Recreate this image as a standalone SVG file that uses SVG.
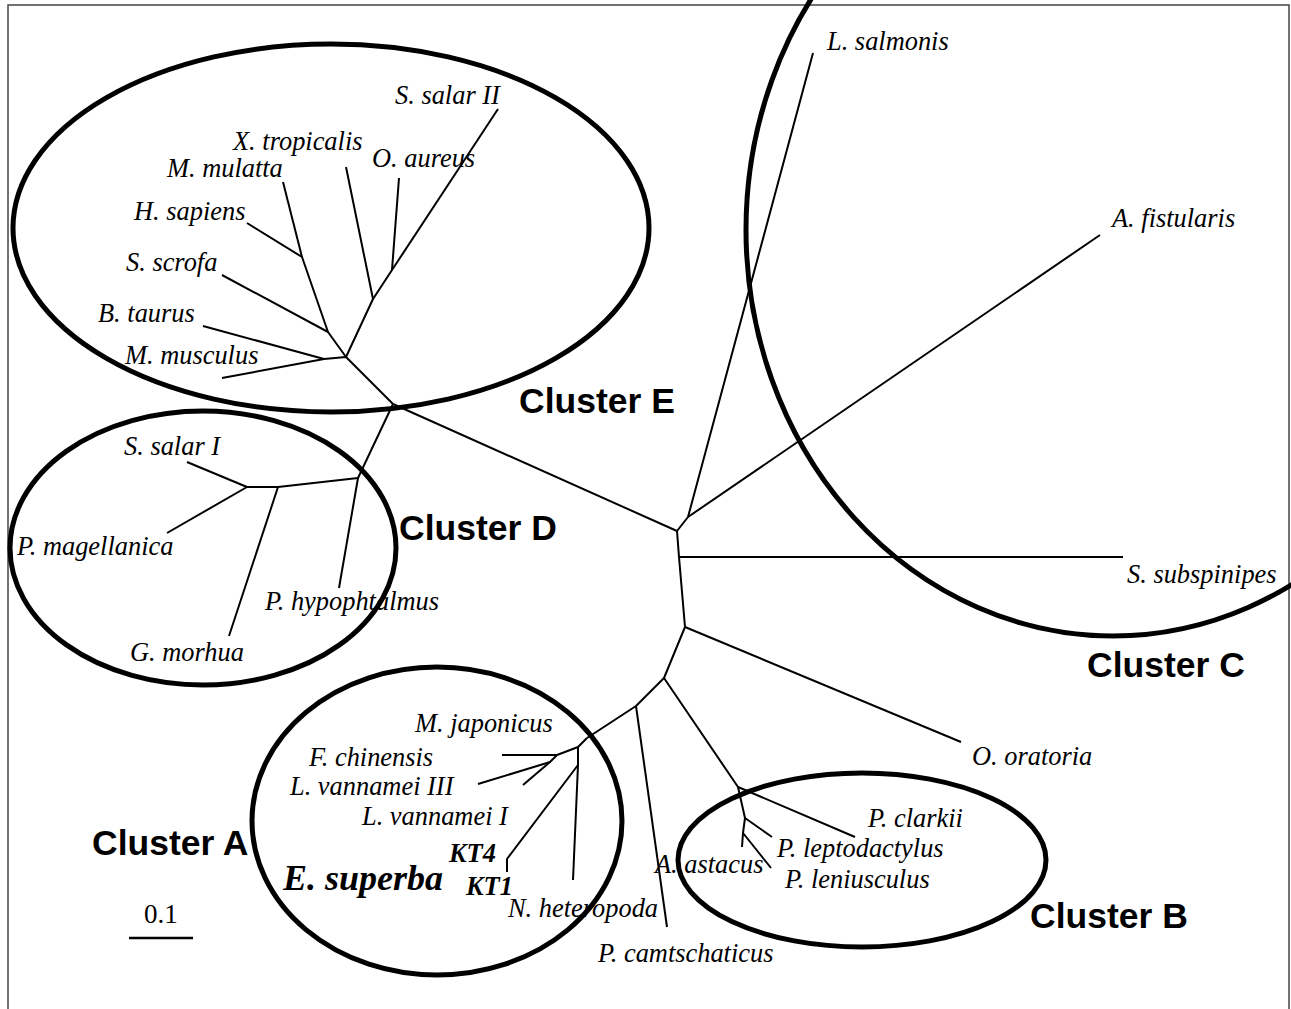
<svg xmlns="http://www.w3.org/2000/svg" width="1291" height="1009" viewBox="0 0 1291 1009">
<style>
.t{font-family:"Liberation Serif","Times New Roman",serif;font-style:italic;font-size:26.4px;fill:#000}
.kt{font-family:"Liberation Serif","Times New Roman",serif;font-style:italic;font-weight:bold;font-size:26.4px;fill:#000}
.cl{font-family:"Liberation Sans",Arial,sans-serif;font-weight:bold;font-size:35.5px;fill:#000}
.ring{fill:none;stroke:#000;stroke-width:5}
.br{fill:none;stroke:#000;stroke-width:2;stroke-linejoin:round;stroke-linecap:butt}
</style>
<rect x="0" y="0" width="1291" height="1009" fill="#fff"/>
<rect x="8" y="5" width="1281" height="1012" fill="none" stroke="#444" stroke-width="1.5"/>

<g id="connectors" class="br">
  <path d="M393,404 L677,531 L688,517 L813,53"/>
  <path d="M688,517 L1100,235"/>
  <path d="M677,531 L679,557 L685,627 L664,678 L636,706 L587,738"/>
  <path d="M679,557 L1123,557"/>
  <path d="M685,627 L961,742"/>
  <path d="M664,678 L738,787 L855,837"/>
  <path d="M738,787 L745,818 L772,837"/>
  <path d="M745,818 L743,833 L742,847"/>
  <path d="M743,833 L771,868"/>
  <path d="M636,706 L667,927"/>
  <path d="M587,738 L578,747 L578,765 L573,880"/>
  <path d="M578,765 L507,859 L507,872"/>
  <path d="M578,747 L557,755 L502,755"/>
  <path d="M557,755 L550,762 L478,784"/>
  <path d="M550,762 L523,785"/>
  <path d="M393,404 L346,357 L324,359 L203,326"/>
  <path d="M324,359 L222,378"/>
  <path d="M346,357 L328,332 L222,275"/>
  <path d="M328,332 L302,257 L247,223"/>
  <path d="M302,257 L283,182"/>
  <path d="M346,357 L373,299 L346,167"/>
  <path d="M373,299 L392,270 L399,178"/>
  <path d="M392,270 L498,109"/>
  <path d="M393,404 L358,478 L339,588"/>
  <path d="M358,478 L278,487 L229,636"/>
  <path d="M278,487 L247,487 L187,462"/>
  <path d="M247,487 L167,533"/>
</g>

<g id="cluster-E"><ellipse class="ring" cx="331" cy="228" rx="318" ry="184"/><text class="cl" x="519" y="413">Cluster E</text></g>
<g id="cluster-D"><ellipse class="ring" cx="203" cy="548" rx="193" ry="137"/><text class="cl" x="399" y="540">Cluster D</text></g>
<g id="cluster-A"><ellipse class="ring" cx="437" cy="821" rx="185" ry="154"/><text class="cl" x="92" y="855">Cluster A</text></g>
<g id="cluster-B"><ellipse class="ring" cx="862" cy="860" rx="184" ry="87"/><text class="cl" x="1030" y="928">Cluster B</text></g>
<g id="cluster-C"><ellipse class="ring" cx="1113" cy="230" rx="367" ry="406"/><text class="cl" x="1087" y="677">Cluster C</text></g>

<g id="S-salar-II"><text class="t" x="395" y="104">S. salar II</text></g>
<g id="X-tropicalis"><text class="t" x="233" y="150">X. tropicalis</text></g>
<g id="O-aureus"><text class="t" x="372" y="167">O. aureus</text></g>
<g id="M-mulatta"><text class="t" x="167" y="177">M. mulatta</text></g>
<g id="H-sapiens"><text class="t" x="134" y="220">H. sapiens</text></g>
<g id="S-scrofa"><text class="t" x="126" y="271">S. scrofa</text></g>
<g id="B-taurus"><text class="t" x="98" y="322">B. taurus</text></g>
<g id="M-musculus"><text class="t" x="125" y="364">M. musculus</text></g>
<g id="S-salar-I"><text class="t" x="124" y="455">S. salar I</text></g>
<g id="P-magellanica"><text class="t" x="17" y="555">P. magellanica</text></g>
<g id="P-hypophtalmus"><text class="t" x="265" y="610">P. hypophtalmus</text></g>
<g id="G-morhua"><text class="t" x="130" y="661">G. morhua</text></g>
<g id="L-salmonis"><text class="t" x="827" y="50">L. salmonis</text></g>
<g id="A-fistularis"><text class="t" x="1112" y="227">A. fistularis</text></g>
<g id="S-subspinipes"><text class="t" x="1127" y="583">S. subspinipes</text></g>
<g id="O-oratoria"><text class="t" x="972" y="765">O. oratoria</text></g>
<g id="P-clarkii"><text class="t" x="868" y="827">P. clarkii</text></g>
<g id="P-leptodactylus"><text class="t" x="777" y="857">P. leptodactylus</text></g>
<g id="A-astacus"><text class="t" x="655" y="873">A. astacus</text></g>
<g id="P-leniusculus"><text class="t" x="785" y="888">P. leniusculus</text></g>
<g id="P-camtschaticus"><text class="t" x="598" y="962">P. camtschaticus</text></g>
<g id="M-japonicus"><text class="t" x="415" y="732">M. japonicus</text></g>
<g id="F-chinensis"><text class="t" x="309" y="766">F. chinensis</text></g>
<g id="L-vannamei-III"><text class="t" x="290" y="795">L. vannamei III</text></g>
<g id="L-vannamei-I"><text class="t" x="362" y="825">L. vannamei I</text></g>
<g id="KT4"><text class="kt" x="449" y="862">KT4</text></g>
<g id="KT1"><text class="kt" x="466" y="895">KT1</text></g>
<g id="E-superba"><text class="kt" x="283" y="890" style="font-size:36px">E. superba</text></g>
<g id="N-heteropoda"><text class="t" x="508" y="917">N. heteropoda</text></g>

<g id="scale-bar">
  <text x="144" y="923" style="font-family:'Liberation Serif','Times New Roman',serif;font-size:27px">0.1</text>
  <line x1="129" y1="938" x2="193" y2="938" stroke="#000" stroke-width="2.5"/>
</g>
</svg>
